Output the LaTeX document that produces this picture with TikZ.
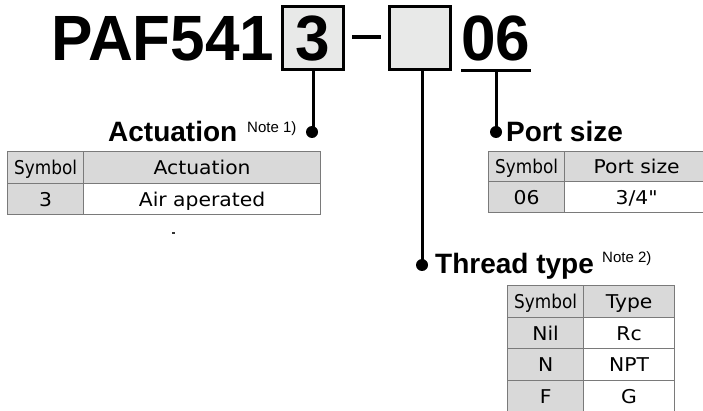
\documentclass[tikz,border=0pt]{standalone}
\usepackage{fontspec}
\setmainfont{Liberation Sans}
\newfontfamily\titlefont[FakeStretch=0.97]{Liberation Sans}
\newfontfamily\headfont{Liberation Sans}
\newfontfamily\tabfont[FakeStretch=1.07]{DejaVu Sans}
\newcommand{\symhead}{\scalebox{0.83}[1]{Symbol}}
\definecolor{boxgray}{HTML}{E8E9E8}
\definecolor{cellgray}{HTML}{D9D9D9}
\definecolor{tabline}{HTML}{7A7A7A}
\begin{document}
\begin{tikzpicture}[x=1pt,y=-1pt,
  title/.style={inner sep=0pt, font=\titlefont\bfseries\fontsize{64}{64}\selectfont},
  codebox/.style={draw=black, line width=3pt, fill=boxgray, inner sep=0pt,
    minimum width=61pt, text height=54.5pt, text depth=8.5pt, anchor=base,
    font=\titlefont\bfseries\fontsize{64}{64}\selectfont},
  conn/.style={draw=black, line width=3pt},
  dot/.style={circle, fill=black, inner sep=0pt, minimum size=12pt},
  head/.style={inner sep=0pt, anchor=base west, font=\headfont\bfseries\fontsize{28}{28}\selectfont},
  note/.style={inner sep=0pt, anchor=base west, font=\headfont\fontsize{15}{15}\selectfont},
  cell/.style={draw=tabline, line width=1.2pt, inner sep=0pt, anchor=north west,
    text height=13.85pt, text depth=0pt, font=\tabfont\fontsize{19}{19}\selectfont},
  gcell/.style={cell, fill=cellgray},
  wcell/.style={cell, fill=white}]
\useasboundingbox (0,0) rectangle (703,411);
\clip (0,0) rectangle (703,411);
% title code
\node[title, anchor=base west] (paf) at (51,61) {PAF541};
\node[codebox] (box1) at (313,61) {3};
\node[codebox] (box2) at (420,61) {};
\draw[line width=4pt] (352,37) -- (381,37);
\node[title, anchor=base, text depth=9pt] (n06) at (496,61) {06};
\draw[conn] (n06.south west) -- (n06.south east);
% dots
\node[dot] (d1) at (312,132) {};
\node[dot] (d2) at (496,132) {};
\node[dot] (d3) at (422,265) {};
\draw[conn] (box1.south) -- (box1.south |- d1.center);
\draw[conn] (box2.south -| d3.center) -- (d3.center);
\draw[conn] (n06.south) -- (d2.center);
% headings
\node[head] (hact) at (108,142) {Actuation};
\node[note] (note1) at (247,133) {Note 1)};
\node[head] (hport) at (506,142) {Port size};
\node[head] (hthr) at (435,273) {Thread type};
\node[note] (note2) at (602,263) {Note 2)};
% table actuation
\node[gcell, minimum width=76pt, minimum height=32pt] (a11) at (7,151) {\symhead};
\node[gcell, minimum width=237pt, minimum height=32pt] (a12) at (83,151) {Actuation};
\node[gcell, minimum width=76pt, minimum height=31pt] (a21) at (7,183) {3};
\node[wcell, minimum width=237pt, minimum height=31pt] (a22) at (83,183) {Air aperated};
% stray mark
\fill[black!80] (172,232) rectangle (175,234);
% table port size
\node[gcell, minimum width=76pt, minimum height=30pt] (p11) at (488,151) {\symhead};
\node[gcell, minimum width=144pt, minimum height=30pt] (p12) at (564,151) {Port size};
\node[gcell, minimum width=76pt, minimum height=31pt] (p21) at (488,181) {06};
\node[wcell, minimum width=144pt, minimum height=31pt] (p22) at (564,181) {3/4"};
% table thread type
\node[gcell, minimum width=76pt, minimum height=32pt] (t11) at (507,285) {\symhead};
\node[gcell, minimum width=91pt, minimum height=32pt] (t12) at (583,285) {Type};
\node[gcell, minimum width=76pt, minimum height=31pt] (t21) at (507,317) {Nil};
\node[wcell, minimum width=91pt, minimum height=31pt] (t22) at (583,317) {Rc};
\node[gcell, minimum width=76pt, minimum height=32pt] (t31) at (507,348) {N};
\node[wcell, minimum width=91pt, minimum height=32pt] (t32) at (583,348) {NPT};
\node[gcell, minimum width=76pt, minimum height=32pt] (t41) at (507,380) {F};
\node[wcell, minimum width=91pt, minimum height=32pt] (t42) at (583,380) {G};
\end{tikzpicture}
\end{document}
